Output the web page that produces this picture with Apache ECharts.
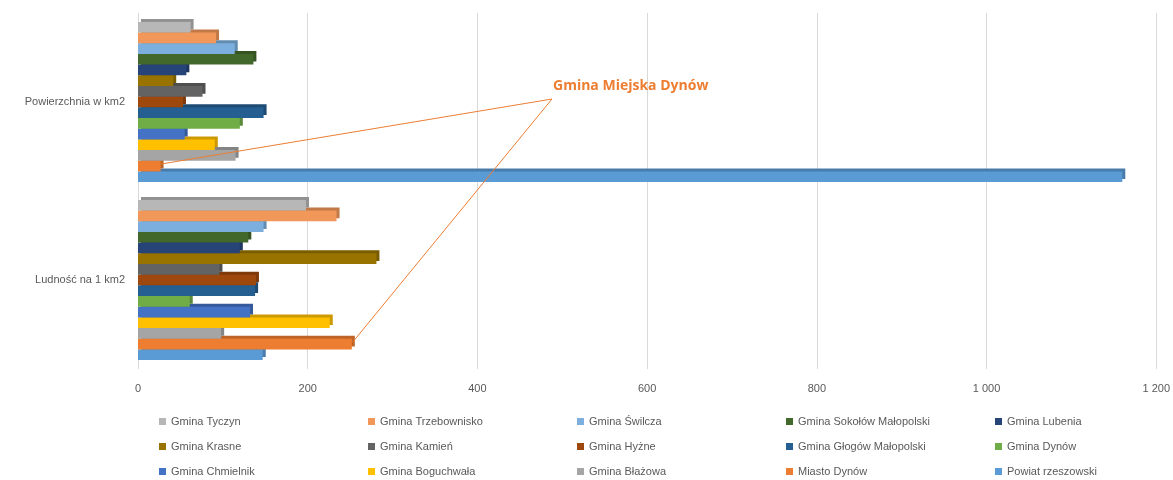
<!DOCTYPE html>
<html>
<head>
<meta charset="utf-8">
<script src="https://cdn.jsdelivr.net/npm/echarts@6/dist/echarts.min.js"></script>
<style>
  html, body { margin: 0; padding: 0; background: #fff; }
  #chart { width: 1173px; height: 480px; }
</style>
</head>
<body>
<div id="chart"></div>
<script>
// categories bottom -> top (category axis)
const categories = ['Ludność na 1 km2', 'Powierzchnia w km2']

// series, top bar -> bottom bar inside each group (also legend order)
const seriesNames = [
  'Gmina Tyczyn', 'Gmina Trzebownisko', 'Gmina Świlcza', 'Gmina Sokołów Małopolski', 'Gmina Lubenia',
  'Gmina Krasne', 'Gmina Kamień', 'Gmina Hyżne', 'Gmina Głogów Małopolski', 'Gmina Dynów',
  'Gmina Chmielnik', 'Gmina Boguchwała', 'Gmina Błażowa', 'Miasto Dynów', 'Powiat rzeszowski'
]
const densityValues = [198, 234, 148, 130, 120, 281, 96, 139, 138, 61, 132, 226, 98, 252, 147]
const areaValues = [62, 92, 114, 136, 57, 41.5, 76, 53, 148, 120, 55, 90.5, 115, 26.6, 1160]

const colors = [
  '#B7B7B7', '#F1975A', '#7CAFDD', '#43682B', '#264478',
  '#997300', '#636363', '#9E480E', '#255E91', '#70AD47',
  '#4472C4', '#FFC000', '#A5A5A5', '#ED7D31', '#5B9BD5'
]

const xMin = 0
const xMax = 1200
const xInterval = 200

const calloutText = 'Gmina Miejska Dynów'
const calloutSeries = 'Miasto Dynów'

const darken = (hex, k) => {
  const n = parseInt(hex.slice(1), 16)
  const r = Math.round(((n >> 16) & 255) * k)
  const g = Math.round(((n >> 8) & 255) * k)
  const b = Math.round((n & 255) * k)
  return `rgb(${r},${g},${b})`
}

const chart = echarts.init(document.getElementById('chart'))

const series = seriesNames.map((name, i) => ({
  name,
  type: 'bar',
  data: [densityValues[i], areaValues[i]],
  barGap: '0%',
  barCategoryGap: '10%',
  z: 30 - i,
  itemStyle: {
    color: colors[i],
    shadowColor: darken(colors[i], 0.8),
    shadowBlur: 0,
    shadowOffsetX: 3,
    shadowOffsetY: -3
  },
  emphasis: { disabled: true }
}))

// legend: 5 columns x 3 rows, one small legend per entry
const legends = seriesNames.map((name, i) => ({
  left: 154 + (i % 5) * 209,
  top: 411 + Math.floor(i / 5) * 25,
  itemWidth: 7,
  itemHeight: 7,
  icon: 'rect',
  selectedMode: false,
  data: [name],
  textStyle: {
    color: '#595959',
    fontSize: 11,
    fontFamily: 'Liberation Sans'
  }
}))

const option = {
  animation: false,
  color: colors,
  grid: {
    left: 138,
    right: 15,
    top: 13,
    bottom: 111,
    containLabel: false
  },
  legend: legends,
  xAxis: {
    type: 'value',
    min: xMin,
    max: xMax,
    interval: xInterval,
    axisLine: { show: false },
    axisTick: { show: false },
    splitLine: { lineStyle: { color: '#D9D9D9', width: 1 } },
    axisLabel: {
      color: '#595959',
      fontSize: 11,
      fontFamily: 'Liberation Sans',
      margin: 14,
      formatter: v => String(v).replace(/\B(?=(\d{3})+(?!\d))/g, ' ')
    }
  },
  yAxis: {
    type: 'category',
    data: categories,
    axisLine: { show: false },
    axisTick: { show: false },
    axisLabel: {
      color: '#595959',
      fontSize: 11,
      fontFamily: 'Liberation Sans',
      margin: 13
    }
  },
  series
}

chart.setOption(option)

// callout lines from the label to the Miasto Dynów bars
const idx = seriesNames.indexOf(calloutSeries)
const data = chart.getModel().getSeriesByIndex(idx).getData()
const anchor = [552, 99]
const graphics = [{
  type: 'text',
  left: 553,
  top: 79,
  z: 100,
  style: {
    text: calloutText,
    fill: '#ED7D31',
    fontSize: 14,
    fontWeight: 'bold',
    fontFamily: 'Open Sans'
  }
}]
for (let j = 0; j < categories.length; j++) {
  const lay = data.getItemLayout(j)
  graphics.push({
    type: 'line',
    z: 100,
    shape: {
      x1: anchor[0],
      y1: anchor[1],
      x2: lay.x + lay.width + 1,
      y2: lay.y + lay.height * 0.3
    },
    style: { stroke: '#ED7D31', lineWidth: 1 }
  })
}
chart.setOption({ graphic: graphics })
</script>
</body>
</html>
